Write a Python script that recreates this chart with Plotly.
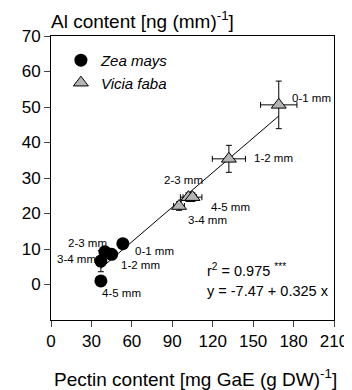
import plotly.graph_objects as go

# ---- data ----
depths = ["0-1 mm", "1-2 mm", "2-3 mm", "3-4 mm", "4-5 mm"]

zea_pectin = [53.3, 45.0, 40.0, 37.0, 37.0]
zea_al = [11.5, 8.5, 9.2, 6.6, 1.0]
zea_al_err = [0.0, 0.0, 0.0, 3.0, 1.0]

vicia_pectin = [169.0, 132.0, 102.0, 95.0, 105.0]
vicia_al = [50.6, 35.4, 24.6, 22.1, 24.6]
vicia_pectin_err = [13.5, 12.3, 6.0, 4.0, 7.0]
vicia_al_err = [6.7, 3.8, 1.2, 1.2, 1.2]

fit_intercept = -7.47
fit_slope = 0.325
fit_r2 = 0.975

x_ticks = [0, 30, 60, 90, 120, 150, 180, 210]
y_ticks = [0, 10, 20, 30, 40, 50, 60, 70]

# ---- label offsets (pixels) ----
zea_label_style = [
    dict(xanchor="left", xshift=10, yshift=-7),
    dict(xanchor="left", xshift=7, yshift=-11),
    dict(xanchor="right", xshift=4, yshift=9),
    dict(xanchor="right", xshift=-3, yshift=2),
    dict(xanchor="left", xshift=-1, yshift=-12),
]
vicia_label_style = [
    dict(xanchor="left", xshift=11, yshift=7),
    dict(xanchor="left", xshift=23, yshift=1),
    dict(xanchor="center", xshift=-5, yshift=17),
    dict(xanchor="left", xshift=7, yshift=-14),
    dict(xanchor="left", xshift=16, yshift=-10),
]

FONT = "Arial, Liberation Sans, sans-serif"

fig = go.Figure()

# regression line over the data range
all_x = zea_pectin + vicia_pectin
x0, x1 = min(all_x), max(all_x)
fig.add_trace(go.Scatter(
    x=[x0, x1], y=[fit_intercept + fit_slope * x0, fit_intercept + fit_slope * x1],
    mode="lines", line=dict(color="black", width=1), showlegend=False, hoverinfo="skip"))

fig.add_trace(go.Scatter(
    x=zea_pectin, y=zea_al, mode="markers", name="<i>Zea mays</i>",
    marker=dict(symbol="circle", size=13, color="black"),
    error_y=dict(type="data", array=zea_al_err, color="black", thickness=1, width=3),
))

fig.add_trace(go.Scatter(
    x=vicia_pectin, y=vicia_al, mode="markers", name="<i>Vicia faba</i>",
    marker=dict(symbol="triangle-up", size=13, color="#b4b4b4",
                line=dict(color="black", width=1)),
    error_y=dict(type="data", array=vicia_al_err, color="black", thickness=1, width=3),
    error_x=dict(type="data", array=vicia_pectin_err, color="black", thickness=1, width=3),
))

LBL = dict(size=11.5, color="black", family=FONT)
annotations = []
for d, x, y, st in zip(depths, zea_pectin, zea_al, zea_label_style):
    annotations.append(dict(x=x, y=y, xref="x", yref="y", text=d, showarrow=False,
                            yanchor="middle", font=LBL, **st))
for d, x, y, st in zip(depths, vicia_pectin, vicia_al, vicia_label_style):
    annotations.append(dict(x=x, y=y, xref="x", yref="y", text=d, showarrow=False,
                            yanchor="middle", font=LBL, **st))

annotations.append(dict(x=0.543, y=0.0, xref="paper", yref="paper", xanchor="left", yanchor="middle",
                        yshift=50, showarrow=False,
                        text=f"r<sup>2</sup> = {fit_r2} <sup>***</sup>",
                        font=dict(size=14.5, color="black", family=FONT)))
annotations.append(dict(x=0.543, y=0.0, xref="paper", yref="paper", xanchor="left", yanchor="middle",
                        yshift=29, showarrow=False,
                        text=f"y = {fit_intercept} + {fit_slope} x",
                        font=dict(size=14.5, color="black", family=FONT)))

annotations.append(dict(x=0, y=1, xref="paper", yref="paper", xanchor="left", yanchor="middle",
                        xshift=-2, yshift=16, showarrow=False,
                        text="Al content [ng (mm)<sup>-1</sup>]",
                        font=dict(size=19, color="black", family=FONT)))
annotations.append(dict(x=0.5, y=0, xref="paper", yref="paper", xanchor="center", yanchor="middle",
                        xshift=3, yshift=-58, showarrow=False,
                        text="Pectin content [mg GaE (g DW)<sup>-1</sup>]",
                        font=dict(size=19, color="black", family=FONT)))

fig.update_layout(
    width=344, height=382,
    margin=dict(l=43, r=18, t=28, b=70),
    paper_bgcolor="white", plot_bgcolor="white",
    font=dict(family=FONT, color="black"),
    showlegend=True,
    legend=dict(x=0.035, y=0.972, xanchor="left", yanchor="top",
                bgcolor="rgba(0,0,0,0)", font=dict(size=15, family=FONT),
                itemwidth=30, tracegroupgap=0),
    annotations=annotations,
    xaxis=dict(range=[0, 210], tickvals=x_ticks, ticks="outside", ticklen=6,
               showline=True, linecolor="black", linewidth=1, mirror=True, automargin=False,
               showgrid=False, zeroline=False, tickfont=dict(size=17)),
    yaxis=dict(range=[-10, 70], tickvals=y_ticks, ticks="outside", ticklen=6,
               showline=True, linecolor="black", linewidth=1, mirror=True, automargin=False,
               showgrid=False, zeroline=False, tickfont=dict(size=17)),
)

fig.write_html("out.html")
